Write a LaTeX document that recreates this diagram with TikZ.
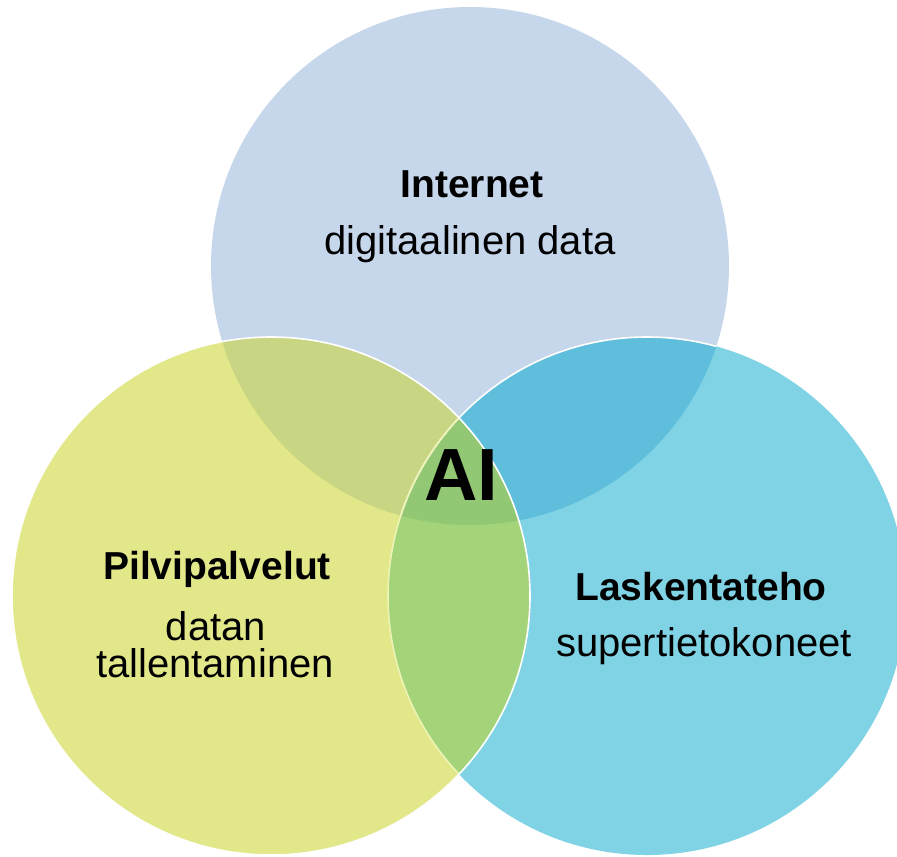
\documentclass[tikz,border=0pt]{standalone}
\usepackage{fontspec}
\setmainfont{Liberation Sans}
\definecolor{ctop}{HTML}{C6D6EB}
\definecolor{cleft}{HTML}{E2E889}
\definecolor{cright}{HTML}{80D3E4}
\definecolor{ctl}{HTML}{C8D582}
\definecolor{ctr}{HTML}{5FBEDC}
\definecolor{clr}{HTML}{A3D47A}
\definecolor{call}{HTML}{92C874}
\definecolor{tintline}{HTML}{EEF2B4}
\tikzset{
  title/.style={anchor=base, font=\fontsize{19.5}{23}\selectfont\bfseries, inner sep=0pt},
  sub/.style={anchor=base, font=\fontsize{20}{24}\selectfont, inner sep=0pt},
  edge/.style={line width=0.8pt},
}
\begin{document}
\begin{tikzpicture}[x=0.5pt,y=-0.5pt]
\useasboundingbox (0,0) rectangle (897,856);
\clip (0,0) rectangle (897,856);
\coordinate (T) at (470,266);
\coordinate (L) at (271,596);
\coordinate (R) at (647,596);
\def\rr{129.5pt}
% base circles
\fill[ctop] (T) circle[radius=\rr];
\fill[cright] (R) circle[radius=\rr];
\fill[cleft] (L) circle[radius=\rr];
% overlaps
\begin{scope}\clip (T) circle[radius=\rr]; \fill[ctl] (L) circle[radius=\rr];\end{scope}
\begin{scope}\clip (T) circle[radius=\rr]; \fill[ctr] (R) circle[radius=\rr];\end{scope}
\begin{scope}\clip (L) circle[radius=\rr]; \fill[clr] (R) circle[radius=\rr];\end{scope}
\begin{scope}\clip (T) circle[radius=\rr]; \clip (L) circle[radius=\rr]; \fill[call] (R) circle[radius=\rr];\end{scope}
% outlines
\begin{scope}\clip (T) circle[radius=\rr]; \draw[edge, white] (R) circle[radius=\rr];\end{scope}
\begin{scope}\clip (L) circle[radius=\rr]; \draw[edge, tintline] (R) circle[radius=\rr];\end{scope}
\draw[edge, white] (L) circle[radius=\rr];
% texts
\node[title] (tint) at (472,197) {Internet};
\node[sub] (sint) at (470,254) {digitaalinen data};
\node[title] (tpil) at (217,579) {Pilvipalvelut};
\node[sub] (spil1) at (216,640) {datan};
\node[sub] (spil2) at (215,677) {tallentaminen};
\node[title] (tlas) at (701,600) {Laskentateho};
\node[sub] (slas) at (704,656) {supertietokoneet};
\node[anchor=base, inner sep=0pt, font=\fontsize{37}{42}\selectfont\bfseries] (ai) at (461,500) {AI};
\end{tikzpicture}
\end{document}
